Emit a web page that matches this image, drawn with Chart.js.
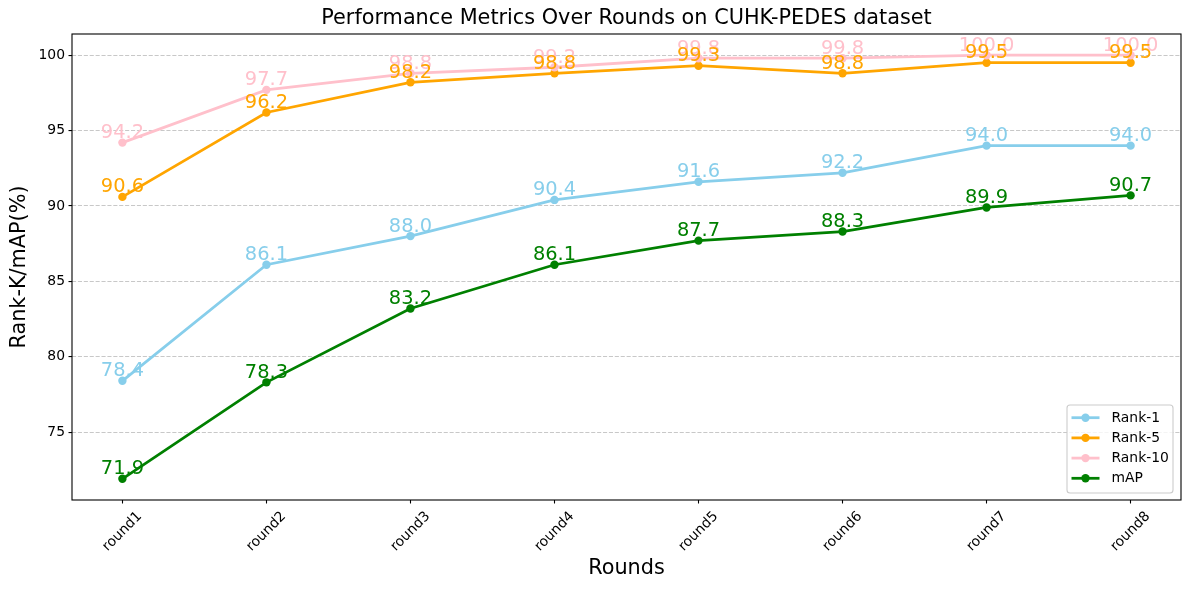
<!DOCTYPE html>
<html>
<head>
<meta charset="utf-8">
<script src="https://cdn.jsdelivr.net/npm/chart.js@4.4.0/dist/chart.umd.min.js"></script>
<style>
html,body{margin:0;padding:0;background:#ffffff;}
#wrap{width:1190px;height:590px;position:relative;}
</style>
</head>
<body>
<div id="wrap"><canvas id="c"></canvas></div>
<script>
const rounds = ['round1','round2','round3','round4','round5','round6','round7','round8'];
const rank1  = [78.4, 86.1, 88.0, 90.4, 91.6, 92.2, 94.0, 94.0];
const rank5  = [90.6, 96.2, 98.2, 98.8, 99.3, 98.8, 99.5, 99.5];
const rank10 = [94.2, 97.7, 98.8, 99.2, 99.8, 99.8, 100.0, 100.0];
const mAP    = [71.9, 78.3, 83.2, 86.1, 87.7, 88.3, 89.9, 90.7];
const yTicks = [75, 80, 85, 90, 95, 100];
const seriesNames = ['Rank-1', 'Rank-5', 'Rank-10', 'mAP'];
const seriesColors = ['#87CEEB', '#FFA500', '#FFC0CB', '#008000'];
const seriesValues = [rank1, rank5, rank10, mAP];
const titleText = 'Performance Metrics Over Rounds on CUHK-PEDES dataset';
const xTitle = 'Rounds';
const yTitle = 'Rank-K/mAP(%)';

const FONT = "'DejaVu Sans', 'Liberation Sans', sans-serif";

const datasets = seriesValues.map((vals, s) => ({
  label: seriesNames[s],
  data: vals.map((v, i) => ({x: i, y: v})),
  borderColor: seriesColors[s],
  backgroundColor: seriesColors[s],
  pointBackgroundColor: seriesColors[s],
  pointBorderColor: seriesColors[s],
  pointBorderWidth: 0,
  pointRadius: 4.2,
  pointHoverRadius: 4.2,
  borderWidth: 2.78,
  tension: 0,
  fill: false,
  order: 4 - s,
  clip: false
}));

const deco = {
  id: 'deco',
  afterDatasetsDraw(chart) {
    const ctx = chart.ctx;
    ctx.save();
    ctx.font = '19.4px ' + FONT;
    ctx.textAlign = 'center';
    ctx.textBaseline = 'alphabetic';
    const drawOrder = [0, 2, 1, 3];
    drawOrder.forEach(s => {
      const meta = chart.getDatasetMeta(s);
      ctx.fillStyle = seriesColors[s];
      meta.data.forEach((pt, i) => {
        ctx.fillText(seriesValues[s][i].toFixed(1), pt.x, pt.y - 4.5);
      });
    });
    ctx.restore();
  },
  afterDraw(chart) {
    const ctx = chart.ctx;
    const a = chart.chartArea;
    const xs = chart.scales.x;
    ctx.save();
    // frame
    ctx.strokeStyle = '#000000';
    ctx.lineWidth = 1.1;
    ctx.strokeRect(a.left, a.top, a.right - a.left, a.bottom - a.top);

    // x tick labels rotated 45
    const fs = 13.9;
    ctx.font = fs + 'px ' + FONT;
    ctx.fillStyle = '#000000';
    ctx.textAlign = 'center';
    ctx.textBaseline = 'middle';
    rounds.forEach((lab, i) => {
      const x = xs.getPixelForValue(i);
      const w = ctx.measureText(lab).width;
      const h = fs * 1.17;
      const bb = (w + h) * Math.SQRT1_2;
      const cy = a.bottom + 3.5 + 4.9 + bb / 2;
      ctx.save();
      ctx.translate(x, cy);
      ctx.rotate(-Math.PI / 4);
      ctx.fillText(lab, 0, 0);
      ctx.restore();
    });

    // title
    const cx = (a.left + a.right) / 2;
    ctx.font = '20.8px ' + FONT;
    ctx.textAlign = 'center';
    ctx.textBaseline = 'middle';
    ctx.fillText(titleText, cx, 19);

    // axis titles
    ctx.font = '20.8px ' + FONT;
    ctx.fillText(xTitle, cx, 569);
    ctx.save();
    ctx.translate(20, (a.top + a.bottom) / 2);
    ctx.rotate(-Math.PI / 2);
    ctx.fillText(yTitle, 0, 0);
    ctx.restore();

    // legend
    const lw = 106, lh = 88, r = 3;
    const lx = a.right - 8 - lw, ly = 405;
    ctx.beginPath();
    ctx.moveTo(lx + r, ly);
    ctx.lineTo(lx + lw - r, ly);
    ctx.quadraticCurveTo(lx + lw, ly, lx + lw, ly + r);
    ctx.lineTo(lx + lw, ly + lh - r);
    ctx.quadraticCurveTo(lx + lw, ly + lh, lx + lw - r, ly + lh);
    ctx.lineTo(lx + r, ly + lh);
    ctx.quadraticCurveTo(lx, ly + lh, lx, ly + lh - r);
    ctx.lineTo(lx, ly + r);
    ctx.quadraticCurveTo(lx, ly, lx + r, ly);
    ctx.closePath();
    ctx.fillStyle = 'rgba(255,255,255,0.8)';
    ctx.fill();
    ctx.strokeStyle = '#cccccc';
    ctx.lineWidth = 1.1;
    ctx.stroke();

    ctx.font = '13.9px ' + FONT;
    ctx.textAlign = 'left';
    ctx.textBaseline = 'middle';
    seriesNames.forEach((name, s) => {
      const yy = 417.7 + s * 20.2;
      ctx.strokeStyle = seriesColors[s];
      ctx.lineWidth = 2.78;
      ctx.beginPath();
      ctx.moveTo(lx + 4.5, yy);
      ctx.lineTo(lx + 32.5, yy);
      ctx.stroke();
      ctx.fillStyle = seriesColors[s];
      ctx.beginPath();
      ctx.arc(lx + 18.5, yy, 4.2, 0, Math.PI * 2);
      ctx.fill();
      ctx.fillStyle = '#000000';
      ctx.fillText(name, lx + 44.5, yy + 0.5);
    });
    ctx.restore();
  }
};

new Chart(document.getElementById('c'), {
  type: 'line',
  data: { datasets },
  plugins: [deco],
  options: {
    responsive: true,
    maintainAspectRatio: false,
    animation: false,
    events: [],
    layout: { padding: { top: 34, right: 9, bottom: 0, left: 0 } },
    plugins: {
      legend: { display: false },
      title: { display: false },
      tooltip: { enabled: false }
    },
    scales: {
      x: {
        type: 'linear',
        min: -0.35,
        max: 7.35,
        afterBuildTicks(scale) { scale.ticks = rounds.map((_, i) => ({ value: i })); },
        afterFit(scale) { scale.height = 90; },
        ticks: { display: false },
        border: { display: false },
        grid: {
          drawOnChartArea: false,
          drawTicks: true,
          tickLength: 3.5,
          tickColor: '#000000',
          tickWidth: 1.1,
          color: '#000000'
        }
      },
      y: {
        type: 'linear',
        min: 70.495,
        max: 101.405,
        afterBuildTicks(scale) { scale.ticks = yTicks.map(v => ({ value: v })); },
        afterFit(scale) { scale.width = 72; },
        ticks: {
          color: '#000000',
          font: { family: FONT, size: 13.9 },
          padding: 3.5,
          callback: (v) => String(v)
        },
        border: { display: false, dash: [4.1, 1.8] },
        grid: {
          drawOnChartArea: true,
          drawTicks: true,
          tickLength: 3.5,
          color: 'rgba(176,176,176,0.7)',
          lineWidth: 1.1,
          tickColor: '#000000',
          tickWidth: 1.1,
          tickBorderDash: []
        }
      }
    }
  }
});
</script>
</body>
</html>
